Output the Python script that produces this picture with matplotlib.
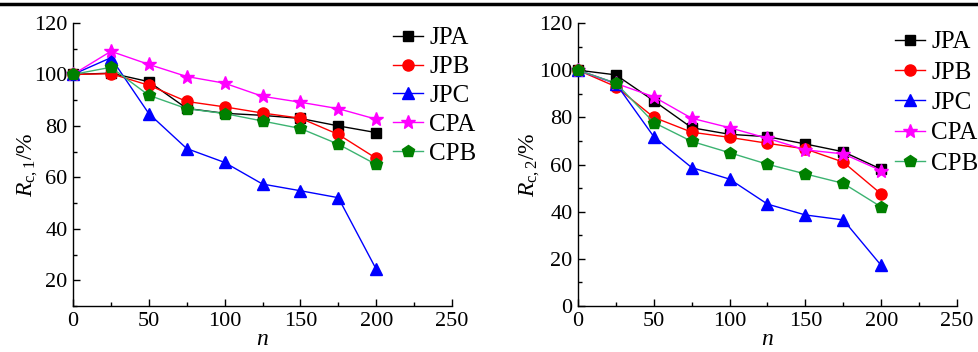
import matplotlib
matplotlib.use("Agg")
import matplotlib.pyplot as plt
from matplotlib.lines import Line2D
from matplotlib.ticker import MultipleLocator

plt.rcParams['font.family'] = ['Liberation Serif', 'DejaVu Serif']
plt.rcParams['mathtext.fontset'] = 'custom'
plt.rcParams['mathtext.rm'] = 'Liberation Serif'
plt.rcParams['mathtext.it'] = 'Liberation Serif:italic'

n = [0, 25, 50, 75, 100, 125, 150, 175, 200]
labels = ['JPA', 'JPB', 'JPC', 'CPA', 'CPB']

rc1_JPA = [100, 100.5, 97.2, 86.8, 84.9, 84.1, 82.9, 80.0, 77.4]
rc1_JPB = [100, 100.3, 95.8, 89.5, 87.4, 85.0, 83.0, 76.7, 67.4]
rc1_JPC = [100, 106.5, 84.8, 71.2, 65.8, 57.4, 54.8, 52.1, 24.3]
rc1_CPA = [100, 109.0, 103.9, 99.2, 96.6, 91.5, 89.2, 86.7, 82.6]
rc1_CPB = [100, 102.8, 91.9, 86.7, 84.8, 81.9, 79.0, 72.9, 65.0]

rc2_JPA = [100, 98.0, 87.0, 75.6, 72.8, 71.8, 68.7, 65.4, 58.0]
rc2_JPB = [100, 93.0, 80.0, 73.7, 71.5, 69.0, 66.6, 61.0, 47.5]
rc2_JPC = [100, 94.3, 71.8, 58.7, 53.8, 43.2, 38.6, 36.5, 17.2]
rc2_CPA = [100, 94.4, 88.7, 79.6, 75.6, 71.1, 66.2, 64.5, 57.4]
rc2_CPB = [100, 94.5, 77.8, 69.8, 65.0, 60.1, 56.0, 52.0, 42.0]

line_colors = ['black', 'red', 'blue', 'magenta', '#3cb371']
marker_colors = ['black', 'red', 'blue', 'magenta', 'green']
markers = ['s', 'o', '^', '*', 'p']
msizes = [7, 8, 8, 10, 9]

fig = plt.figure(figsize=(9.79, 3.52), dpi=100)
W, H = 979, 352

def ax_rect(x0, x1, y0, y1):
    return [x0 / W, 1 - y1 / H, (x1 - x0) / W, (y1 - y0) / H]

ax1 = fig.add_axes(ax_rect(73, 452, 23, 306))
ax2 = fig.add_axes(ax_rect(578, 957, 23, 306))

sets = [
    (ax1, [rc1_JPA, rc1_JPB, rc1_JPC, rc1_CPA, rc1_CPB], (10, 120), r'$R_{\mathrm{c,1}}$/%', (393, 27), 0.25, -4),
    (ax2, [rc2_JPA, rc2_JPB, rc2_JPC, rc2_CPA, rc2_CPB], (0, 120), r'$R_{\mathrm{c,2}}$/%', (895, 31), 0.31, -2),
]

for ax, series, ylim, ylab, legpos, lsp, ylpad in sets:
    handles = []
    for vals, lab, lc, mc, mk, ms in zip(series, labels, line_colors, marker_colors, markers, msizes):
        ax.plot(n, vals, color=lc, lw=1.0, marker=mk, markersize=ms,
                markerfacecolor=mc, markeredgecolor=mc, clip_on=False, zorder=3)
        handles.append(Line2D([0], [0], color=lc, lw=1.0, marker=mk, markersize=ms,
                              markerfacecolor=mc, markeredgecolor=mc, label=lab))
    ax.set_xlim(0, 250)
    ax.set_ylim(*ylim)
    ax.xaxis.set_major_locator(MultipleLocator(50))
    ax.xaxis.set_minor_locator(MultipleLocator(25))
    if ylim[0] == 10:
        ax.set_yticks([20, 40, 60, 80, 100, 120])
        ax.set_yticks([10, 30, 50, 70, 90, 110], minor=True)
    else:
        ax.yaxis.set_major_locator(MultipleLocator(20))
        ax.yaxis.set_minor_locator(MultipleLocator(10))
    for s in ['top', 'right']:
        ax.spines[s].set_visible(False)
    for s in ['left', 'bottom']:
        ax.spines[s].set_linewidth(1.0)
    ax.tick_params(which='both', direction='in', labelsize=16, width=1.0)
    ax.tick_params(which='major', length=5, pad=4)
    ax.tick_params(which='minor', length=3)
    ax.set_xlabel('$n$', fontsize=17, labelpad=-1)
    ax.set_ylabel(ylab, fontsize=17, labelpad=ylpad)
    ax.legend(handles=handles, loc='upper left', frameon=False, fontsize=18,
              bbox_to_anchor=(legpos[0] / W, 1 - legpos[1] / H), bbox_transform=fig.transFigure,
              handlelength=1.2, handletextpad=0.25, labelspacing=lsp, borderpad=0,
              borderaxespad=0)

fig.add_artist(Line2D([0, 1], [1 - 3.5 / H, 1 - 3.5 / H], color='black', lw=2.5,
                      transform=fig.transFigure))

fig.savefig('out.png', dpi=100)
